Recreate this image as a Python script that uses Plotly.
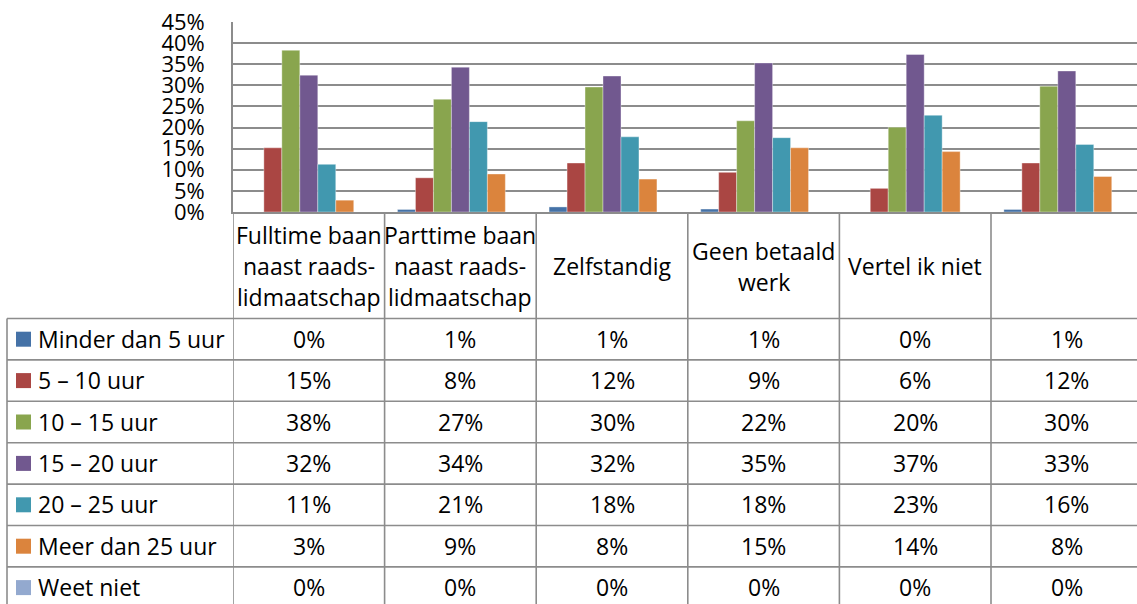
import plotly.graph_objects as go

# ---------------- data ----------------
categories = [
    "Fulltime baan<br>naast raads-<br>lidmaatschap",
    "Parttime baan<br>naast raads-<br>lidmaatschap",
    "Zelfstandig",
    "Geen betaald<br>werk",
    "Vertel ik niet",
    "",
]
series_names = [
    "Minder dan 5 uur",
    "5 – 10 uur",
    "10 – 15 uur",
    "15 – 20 uur",
    "20 – 25 uur",
    "Meer dan 25 uur",
    "Weet niet",
]
minder_5 = [0.000, 0.006, 0.012, 0.007, 0.000, 0.006]
uur_5_10 = [0.152, 0.081, 0.116, 0.094, 0.056, 0.116]
uur_10_15 = [0.383, 0.267, 0.296, 0.216, 0.201, 0.298]
uur_15_20 = [0.324, 0.343, 0.322, 0.353, 0.373, 0.334]
uur_20_25 = [0.113, 0.214, 0.178, 0.176, 0.229, 0.160]
meer_25 = [0.028, 0.090, 0.078, 0.152, 0.143, 0.084]
weet_niet = [0.0, 0.0, 0.0, 0.0, 0.0, 0.0]
series_values = [minder_5, uur_5_10, uur_10_15, uur_15_20, uur_20_25, meer_25, weet_niet]
colors = ["#4572A7", "#AA4643", "#89A54E", "#71588F", "#4198AF", "#DB843D", "#93A9CF"]
y_ticks = [0, 0.05, 0.10, 0.15, 0.20, 0.25, 0.30, 0.35, 0.40, 0.45]

# ---------------- layout helpers ----------------
W, H = 1137, 604
FONT = "Open Sans"
FS = 23
GRID = "#8C8C8C"


def px(x):
    return x / W


def py(y):
    return 1 - y / H


plot_left, plot_top, plot_bottom = 233, 22, 212
col_w = 151.6
x_span = (W - plot_left) / col_w
row_top, row_h = 318.5, 41.4

fig = go.Figure()
x_idx = list(range(len(categories)))
for name, vals, c in zip(series_names, series_values, colors):
    fig.add_trace(go.Bar(x=x_idx, y=vals, name=name,
                         marker=dict(color=c, line=dict(width=0.6, color="rgba(255,255,255,0.6)")),
                         showlegend=False))

shapes = []
annotations = []

# column separators below the plot (through the category + table area)
for i in range(len(categories)):
    shapes.append(dict(type="line", xref="x", yref="paper", x0=i - 0.5, x1=i - 0.5,
                       y0=0, y1=py(plot_bottom), line=dict(color=GRID, width=1.6)))
# left border of the table
shapes.append(dict(type="line", xref="paper", yref="paper", x0=px(7), x1=px(7),
                   y0=0, y1=py(row_top), line=dict(color=GRID, width=1.6)))
# horizontal table lines
for k in range(len(series_names) + 1):
    yy = row_top + k * row_h
    if yy > H:
        break
    shapes.append(dict(type="line", xref="paper", yref="paper", x0=px(7), x1=1,
                       y0=py(yy), y1=py(yy), line=dict(color=GRID, width=1.6)))

# category labels (one annotation per line for exact spacing)
cat_center, line_gap = 266, 31
for i, lab in enumerate(categories):
    if not lab:
        continue
    lines = lab.split("<br>")
    n = len(lines)
    for j, ln in enumerate(lines):
        yc = cat_center + (j - (n - 1) / 2) * line_gap
        annotations.append(dict(text=ln, xref="x", yref="paper", x=i, y=py(yc),
                                xanchor="center", yanchor="middle", showarrow=False,
                                font=dict(family=FONT, size=FS, color="black")))

# table rows: legend key + values
for r, (name, vals, c) in enumerate(zip(series_names, series_values, colors)):
    yc = row_top + (r + 0.5) * row_h
    shapes.append(dict(type="rect", xref="paper", yref="paper", x0=px(16), x1=px(31),
                       y0=py(yc + 7.5), y1=py(yc - 7.5), fillcolor=c, line=dict(width=0)))
    annotations.append(dict(text=name, xref="paper", yref="paper", x=px(36), y=py(yc - 0.5),
                            xanchor="left", yanchor="middle", showarrow=False,
                            font=dict(family=FONT, size=FS, color="black")))
    for i, v in enumerate(vals):
        annotations.append(dict(text=f"{round(v * 100):d}%", xref="x", yref="paper", x=i, y=py(yc - 0.5),
                                xanchor="center", yanchor="middle", showarrow=False,
                                font=dict(family=FONT, size=FS, color="black")))

fig.update_layout(
    width=W, height=H, autosize=False,
    margin=dict(l=0, r=0, t=0, b=0, pad=0),
    paper_bgcolor="white", plot_bgcolor="white",
    barmode="group", bargap=0.17, bargroupgap=0,
    xaxis=dict(domain=[px(plot_left), 1], range=[-0.5, -0.5 + x_span], automargin=False,
               showticklabels=False, ticks="", showgrid=False, zeroline=False,
               showline=True, linecolor=GRID, linewidth=1.6, fixedrange=True),
    yaxis=dict(domain=[py(plot_bottom), py(plot_top)], range=[0, 0.45], automargin=False,
               tickvals=y_ticks, tickformat=".0%", ticks="",
               showgrid=True, gridcolor=GRID, gridwidth=1.6, zeroline=False,
               showline=True, linecolor=GRID, linewidth=1.6, fixedrange=True,
               tickfont=dict(family=FONT, size=22, color="black"), ticklabelstandoff=22),
    shapes=shapes,
    annotations=annotations,
    font=dict(family=FONT, size=FS, color="black"),
)

fig.write_html("out.html", config={"displayModeBar": False},
               post_script="document.body.style.margin='0';document.body.style.overflow='hidden';")
